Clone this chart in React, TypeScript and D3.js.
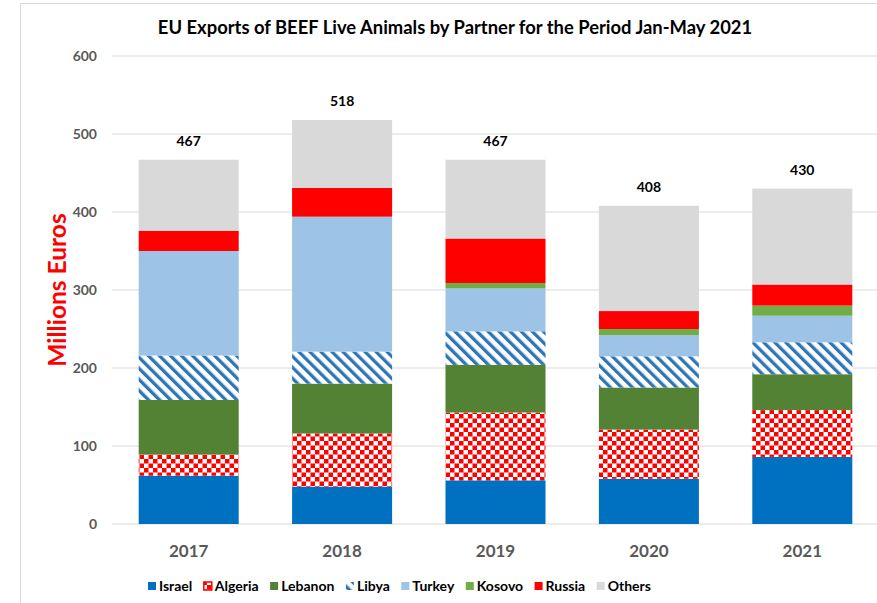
import React from "react";
import * as d3 from "d3";

const years = ["2017", "2018", "2019", "2020", "2021"];
const partners = ["Israel", "Algeria", "Lebanon", "Libya", "Turkey", "Kosovo", "Russia", "Others"];
const israel = [62, 48, 56, 58, 86];
const algeria = [27, 68, 87, 63, 60];
const lebanon = [70, 64, 61, 54, 46];
const libya = [57, 41, 43, 40, 41];
const turkey = [134, 173, 55, 27, 34];
const kosovo = [0, 0, 7, 8, 13];
const russia = [26, 37, 57, 23, 27];
const others = [91, 87, 101, 135, 123];
const totals = [467, 518, 467, 408, 430];
const yTicks = [0, 100, 200, 300, 400, 500, 600];

const seriesValues = [israel, algeria, lebanon, libya, turkey, kosovo, russia, others];
const fills = [
  "#0070C0",
  "url(#checker)",
  "#548235",
  "url(#diag)",
  "#9DC3E6",
  "#70AD47",
  "#FF0000",
  "#D9D9D9",
];

const W = 877;
const H = 603;
const FONT = "Lato, 'Open Sans', sans-serif";

function measure(text: string, font: string): number {
  const c = document.createElement("canvas");
  const ctx = c.getContext("2d")!;
  ctx.font = font;
  return ctx.measureText(text).width;
}

export default function App() {
  const x = d3
    .scaleBand<string>()
    .domain(years)
    .range([112, 879])
    .paddingInner(0.348)
    .paddingOuter(0.174);
  const y = d3.scaleLinear().domain([0, 600]).range([524, 56]);

  const table = years.map((yr, i) => {
    const row: any = { year: yr };
    partners.forEach((p, k) => (row[p] = seriesValues[k][i]));
    return row;
  });
  const stacked = d3.stack<any>().keys(partners)(table);

  // legend layout
  const legendFont = `bold 14px ${FONT}`;
  let lx = 148;
  const legendItems = partners.map((p, k) => {
    const item = { name: p, x: lx, fill: fills[k] };
    lx += 8 + 3 + measure(p, legendFont) + 11.5;
    return item;
  });

  return (
    <svg
      width={W}
      height={H}
      style={{ position: "absolute", left: 0, top: 0, background: "#fff" }}
      fontFamily={FONT}
    >
      <defs>
        <pattern id="checker" patternUnits="userSpaceOnUse" width={9} height={9}>
          <rect width={9} height={9} fill="#fff" />
          <rect width={4.5} height={4.5} fill="#FF0000" />
          <rect x={4.5} y={4.5} width={4.5} height={4.5} fill="#FF0000" />
        </pattern>
        <pattern
          id="diag"
          patternUnits="userSpaceOnUse"
          width={7.8}
          height={7.8}
          patternTransform="rotate(-45)"
        >
          <rect width={7.8} height={7.8} fill="#fff" />
          <rect width={3.3} height={7.8} fill="#2E75B6" />
        </pattern>
      </defs>

      <rect x={20.5} y={3.5} width={W} height={H} fill="none" stroke="#d9d9d9" strokeWidth={1} />

      <text
        x={455}
        y={34}
        textAnchor="middle"
        fontSize={18.4}
        fontWeight="bold"
        fill="#000"
      >
        EU Exports of BEEF Live Animals by Partner for the Period Jan-May 2021
      </text>

      {yTicks.map((t) => (
        <g key={t}>
          <line x1={112} x2={W} y1={y(t)} y2={y(t)} stroke="#d9d9d9" strokeWidth={1} />
          <text
            x={97}
            y={y(t)}
            dy="0.35em"
            textAnchor="end"
            fontSize={14}
            fontWeight="bold"
            fill="#595959"
          >
            {t}
          </text>
        </g>
      ))}

      <text
        transform={`translate(66,290) rotate(-90)`}
        textAnchor="middle"
        fontSize={24.5}
        fontWeight="bold"
        fill="#FF0000"
      >
        Millions Euros
      </text>

      {stacked.map((s, k) => (
        <g key={s.key}>
          {s.map((d, i) => {
            const h = y(d[0]) - y(d[1]);
            if (h <= 0) return null;
            return (
              <rect
                key={i}
                x={x(years[i])}
                width={x.bandwidth()}
                y={y(d[1])}
                height={h}
                fill={fills[k]}
              />
            );
          })}
        </g>
      ))}

      {years.map((yr, i) => (
        <g key={yr}>
          <text
            x={x(yr)! + x.bandwidth() / 2}
            y={y(totals[i]) - 19}
            dy="0.35em"
            textAnchor="middle"
            fontSize={14}
            fontWeight="bold"
            fill="#000"
          >
            {totals[i]}
          </text>
          <text
            x={x(yr)! + x.bandwidth() / 2}
            y={551}
            dy="0.35em"
            textAnchor="middle"
            fontSize={17}
            fontWeight="bold"
            fill="#595959"
          >
            {yr}
          </text>
        </g>
      ))}

      {legendItems.map((it) => (
        <g key={it.name}>
          <rect x={it.x} y={582} width={8} height={8} fill={it.fill} stroke={it.name === "Algeria" ? "#FF0000" : "none"} strokeWidth={it.name === "Algeria" ? 1.5 : 0} />
          <text x={it.x + 11} y={586} dy="0.35em" fontSize={14} fontWeight="bold" fill="#000">
            {it.name}
          </text>
        </g>
      ))}
    </svg>
  );
}
